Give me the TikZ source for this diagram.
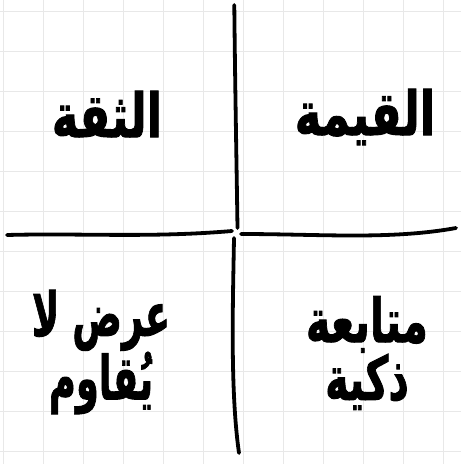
\documentclass[tikz,border=0pt]{standalone}
\usepackage{fontspec}
\usetikzlibrary{positioning}
\TeXXeTstate=1
\newfontfamily\arabicfont[Script=Arabic, BoldFeatures={FakeBold=1.6}]{DejaVu Sans}
\newcommand\artext[2][1]{\scalebox{#1}[1.35]{\beginR #2\endR}}
\definecolor{GridGray}{RGB}{232,232,232}
\definecolor{InkBlack}{RGB}{0,0,0}

\begin{document}
\begin{tikzpicture}[
  x=1pt, y=-1pt,
  grid line/.style = {GridGray, line width=1.5pt},
  ink/.style       = {InkBlack, line width=3.8pt, line cap=round},
  quad/.style      = {font=\arabicfont\bfseries\fontsize{45}{56}\selectfont,
                      align=center, inner sep=0pt}
]
\useasboundingbox (0,0) rectangle (461,464);
\fill[white] (0,0) rectangle (461,464);
% paper grid
\foreach \gx in {3.3,43.3,...,443.3}
  \draw[grid line] (\gx,0) -- (\gx,464);
\foreach \gy in {11.7,51.7,...,451.7}
  \draw[grid line] (0,\gy) -- (461,\gy);
% hand drawn cross
\coordinate (top)    at (234.3,5);
\coordinate (topin)  at (237.5,228);
\coordinate (left)   at (7,235);
\coordinate (leftin) at (232,231);
\coordinate (right)  at (456,228);
\coordinate (rightin) at (241,234);
\coordinate (bot)    at (239,453);
\coordinate (botin)  at (234,238);
\draw[ink] (top) .. controls (235,80) and (236.5,160) .. (topin);
\draw[ink] (left) .. controls (80,233) and (150,238) .. (leftin);
\draw[ink] (rightin) .. controls (320,234) and (390,240) .. (right);
\draw[ink] (botin) .. controls (233,300) and (230,390) .. (bot);
% quadrant labels
\node[quad] (trust) at (107,114) {\artext{الثقة}};
\node[quad] (value) at (365,117) {\artext{القيمة}};
\node[quad] (offer) at (101,352) {\artext[0.82]{عرض لا}\\\artext[0.82]{يُقاوم}};
\node[quad] (track) at (367,353) {\artext[0.92]{متابعة}\\\artext[0.88]{ذكية}};
\end{tikzpicture}
\end{document}
